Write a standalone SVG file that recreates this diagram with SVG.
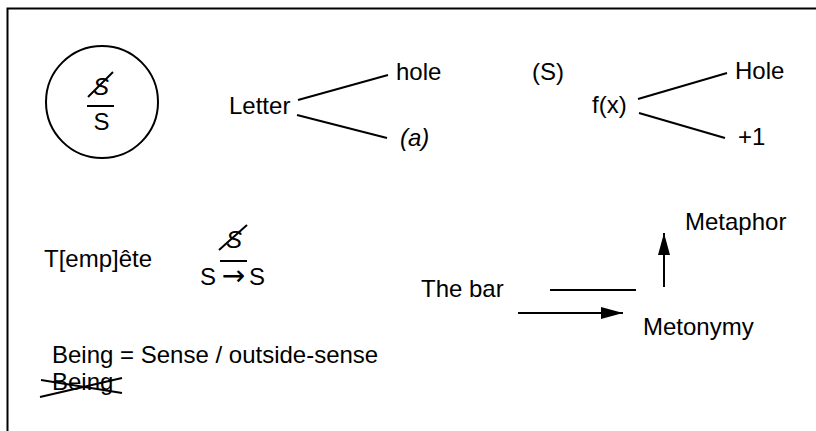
<svg xmlns="http://www.w3.org/2000/svg" width="816" height="431" viewBox="0 0 816 431">
<defs>
<style>
text{font-family:"Liberation Sans",Arial,sans-serif;font-size:24px;fill:#000}
.ln{stroke:#000;stroke-width:2;fill:none}
.it{font-style:italic}
.arr{font-family:"DejaVu Sans",sans-serif;font-size:28px}
</style>
<marker id="ahr" viewBox="0 0 22 12" refX="22" refY="6" markerWidth="22" markerHeight="12" markerUnits="userSpaceOnUse" orient="auto">
<path d="M0,0 L22,6 L0,12 Z" fill="#000"/>
</marker>
</defs>
<rect width="816" height="431" fill="#fff"/>
<path class="ln" d="M7.5,431 V8.5 H816"/>
<g id="matheme">
<circle class="ln" cx="102" cy="102" r="56"/>
<text class="it" x="101" y="95" text-anchor="middle">S</text>
<line class="ln" x1="88" y1="97" x2="113" y2="72"/>
<line class="ln" x1="87" y1="106" x2="114" y2="106"/>
<text x="101.5" y="130" text-anchor="middle">S</text>
</g>
<g id="letter"><text x="229" y="114">Letter</text></g>
<g id="hole"><text x="396" y="80">hole</text></g>
<g id="a"><text class="it" x="400" y="146">(a)</text></g>
<g id="s"><text x="532" y="80">(S)</text></g>
<g id="fx"><text x="592" y="113">f(x)</text></g>
<g id="Hole"><text x="735" y="79">Hole</text></g>
<g id="plus1"><text x="738" y="145">+1</text></g>
<g id="tempete"><text x="44" y="267">T[emp]ête</text></g>
<g id="fraction2">
<text class="it" x="234" y="248" text-anchor="middle">S</text>
<line class="ln" x1="219" y1="250" x2="247" y2="225"/>
<line class="ln" x1="220" y1="261" x2="247" y2="261"/>
<text x="200" y="285">S</text>
<text class="arr" x="233.5" y="285" text-anchor="middle">→</text>
<text x="249" y="285">S</text>
</g>
<g id="thebar"><text x="421" y="297">The bar</text></g>
<g id="metaphor"><text x="685" y="230">Metaphor</text></g>
<g id="metonymy"><text x="643" y="335">Metonymy</text></g>
<g id="being">
<text x="52" y="363">Being = Sense / outside-sense</text>
<text x="52" y="390">Being</text>
<line class="ln" x1="41" y1="380" x2="122" y2="393"/>
<line class="ln" x1="40" y1="397" x2="122" y2="378"/>
</g>
<g id="connectors">
<line class="ln" x1="298" y1="100" x2="388" y2="75"/>
<line class="ln" x1="297" y1="115" x2="387" y2="138"/>
<line class="ln" x1="638" y1="99" x2="727" y2="73"/>
<line class="ln" x1="639" y1="113" x2="725" y2="138"/>
<line class="ln" x1="550" y1="290" x2="636" y2="290"/>
<line class="ln" x1="518" y1="313" x2="623" y2="313" marker-end="url(#ahr)"/>
<line class="ln" x1="664" y1="287" x2="664" y2="233" marker-end="url(#ahr)"/>
</g>
</svg>
